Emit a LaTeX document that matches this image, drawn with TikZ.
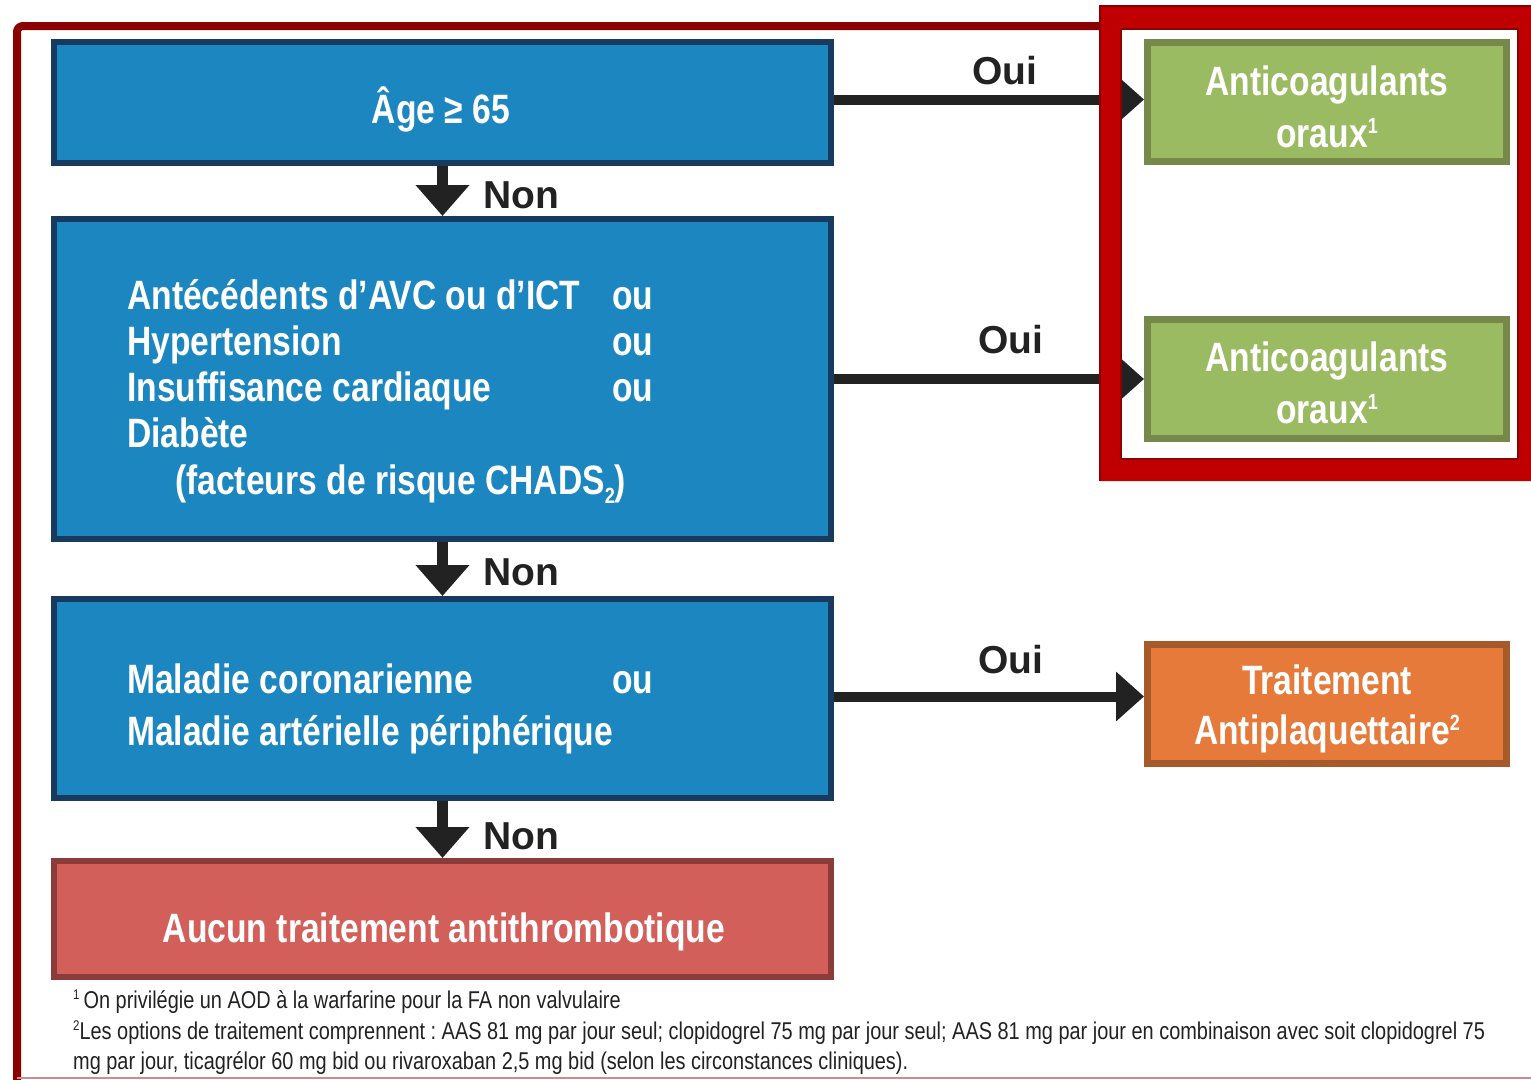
\documentclass[tikz,border=0pt]{standalone}
\usepackage{fontspec}
\setmainfont{Liberation Sans}[FakeStretch=0.82]
\newfontfamily\widesans{Liberation Sans}
\usetikzlibrary{arrows.meta}
\frenchspacing

\definecolor{boxblue}{HTML}{1B86BF}
\definecolor{boxblueedge}{HTML}{173A5E}
\definecolor{boxgreen}{HTML}{9BBB63}
\definecolor{boxgreenedge}{HTML}{76894A}
\definecolor{boxorange}{HTML}{E57A3B}
\definecolor{boxorangeedge}{HTML}{A65A2A}
\definecolor{boxred}{HTML}{D35F5A}
\definecolor{boxrededge}{HTML}{8B3B3A}
\definecolor{framered}{HTML}{8B0000}
\definecolor{hired}{HTML}{C00000}
\definecolor{ink}{HTML}{222222}

% raised / lowered small digit: shift, size, digit
\newcommand\supnum[3]{\raisebox{#1}{\fontsize{#2}{#2}\selectfont #3}}

\begin{document}
\begin{tikzpicture}[x=1pt,y=-1pt,
  qbox/.style={draw=boxblueedge, fill=boxblue, line width=6pt, minimum width=777pt,
               inner sep=0pt, outer sep=3pt},
  endbox/.style={draw=boxrededge, fill=boxred, line width=6pt, minimum width=777pt,
               inner sep=0pt, outer sep=3pt},
  rbox/.style={line width=7pt, minimum width=359pt, minimum height=119pt,
               inner sep=0pt, outer sep=3.5pt},
  btxt/.style={text=white, font=\fontsize{41}{46}\selectfont\bfseries, inner sep=0pt},
  lbl/.style={text=ink, font=\widesans\fontsize{39}{39}\selectfont\bfseries,
              inner sep=0pt, anchor=base west},
  fn/.style={text=ink, font=\fontsize{24.3}{24.3}\selectfont, inner sep=0pt, anchor=base west},
  harrow/.style={draw=ink, line width=10pt, -{Triangle[length=28pt,width=48pt]}},
  varrow/.style={draw=ink, line width=11pt, -{Triangle[length=31pt,width=52pt]}}]

\useasboundingbox (0,0) rectangle (1531,1079);
\clip (0,0) rectangle (1531,1079);
\fill[white] (0,0) rectangle (1531,1079);

% outer frame
\draw[framered, line width=8pt, rounded corners=6pt] (17,1100) -- (17,26) -- (1110,26);
\draw[framered!45, line width=2pt] (17,1078) -- (1531,1078);

% decision boxes
\node[qbox, minimum height=121pt] (age) at (442.5,102.5) {};
\node[qbox, minimum height=320pt] (chads) at (442.5,379) {};
\node[qbox, minimum height=199pt] (vasc) at (442.5,698.5) {};
\node[endbox, minimum height=116pt] (none) at (442.5,919) {};

% outcome boxes
\node[rbox, draw=boxgreenedge, fill=boxgreen] (aco1) at (1327,102) {};
\node[rbox, draw=boxgreenedge, fill=boxgreen] (aco2) at (1327,378.5) {};
\node[rbox, draw=boxorangeedge, fill=boxorange] (apt) at (1327,703.5) {};

% box texts
\node[btxt, anchor=base] (tage) at (441,123) {Âge ≥ 65};

\node[btxt, anchor=base west] (c1) at (127,309) {Antécédents d’AVC ou d’ICT};
\node[btxt, anchor=base west] (c2) at (127,355) {Hypertension};
\node[btxt, anchor=base west] (c3) at (127,401) {Insuffisance cardiaque};
\node[btxt, anchor=base west] (c4) at (127,447) {Diabète};
\node[btxt, anchor=base west] (c5) at (175,494) {(facteurs de risque CHADS\supnum{-9pt}{22pt}{2})};
\node[btxt, anchor=base west] (o1) at (612,309) {ou};
\node[btxt, anchor=base west] (o2) at (612,355) {ou};
\node[btxt, anchor=base west] (o3) at (612,401) {ou};

\node[btxt, anchor=base west] (v1) at (127,693) {Maladie coronarienne};
\node[btxt, anchor=base west] (v2) at (127,745) {Maladie artérielle périphérique};
\node[btxt, anchor=base west] (o4) at (612,693) {ou};

\node[btxt, anchor=base] (tnone) at (444,942) {Aucun traitement antithrombotique};

\node[btxt, anchor=base] (ta1) at (1327,95) {Anticoagulants};
\node[btxt, anchor=base] (tb1) at (1327,147) {oraux\supnum{14pt}{22pt}{1}};
\node[btxt, anchor=base] (ta2) at (1327,371) {Anticoagulants};
\node[btxt, anchor=base] (tb2) at (1327,423) {oraux\supnum{14pt}{22pt}{1}};
\node[btxt, anchor=base] (tp1) at (1327,694) {Traitement};
\node[btxt, anchor=base] (tp2) at (1327,744) {Antiplaquettaire\supnum{14pt}{22pt}{2}};

% connectors
\draw[harrow] ([yshift=3pt]age.east) -- ([yshift=3pt]age.east -| aco1.west);
\draw[harrow] (chads.east) -- (chads.east -| aco2.west);
\draw[harrow] ([yshift=2pt]vasc.east) -- ([yshift=2pt]vasc.east -| apt.west);
\draw[varrow] (age.south) -- (chads.north);
\draw[varrow] (chads.south) -- (vasc.north);
\draw[varrow] (vasc.south) -- (none.north);

% branch labels
\node[lbl] (y1) at (972,84) {Oui};
\node[lbl] (y2) at (978,353) {Oui};
\node[lbl] (y3) at (978,673) {Oui};
\node[lbl] (n1) at (483,208) {Non};
\node[lbl] (n2) at (483,585) {Non};
\node[lbl] (n3) at (483,849) {Non};

% highlight ring around the anticoagulant outcomes
\fill[hired, even odd rule] (1100,6) rectangle (1545,481) (1121,29) rectangle (1518,459);
\draw[framered, line width=2pt] (1121,29) rectangle (1518,459);
\draw[framered, line width=1.5pt] (1100,481) -- (1100,6) -- (1545,6);

% footnotes
\node[fn] (f1) at (73,1008) {\supnum{9pt}{14pt}{1}\,On privilégie un AOD à la warfarine pour la FA non valvulaire};
\node[fn] (f2) at (73,1039) {\supnum{9pt}{14pt}{2}Les options de traitement comprennent : AAS 81 mg par jour seul; clopidogrel 75 mg par jour seul; AAS 81 mg par jour en combinaison avec soit clopidogrel 75};
\node[fn] (f3) at (73,1069) {mg par jour, ticagrélor 60 mg bid ou rivaroxaban 2,5 mg bid (selon les circonstances cliniques).};
\end{tikzpicture}
\end{document}
